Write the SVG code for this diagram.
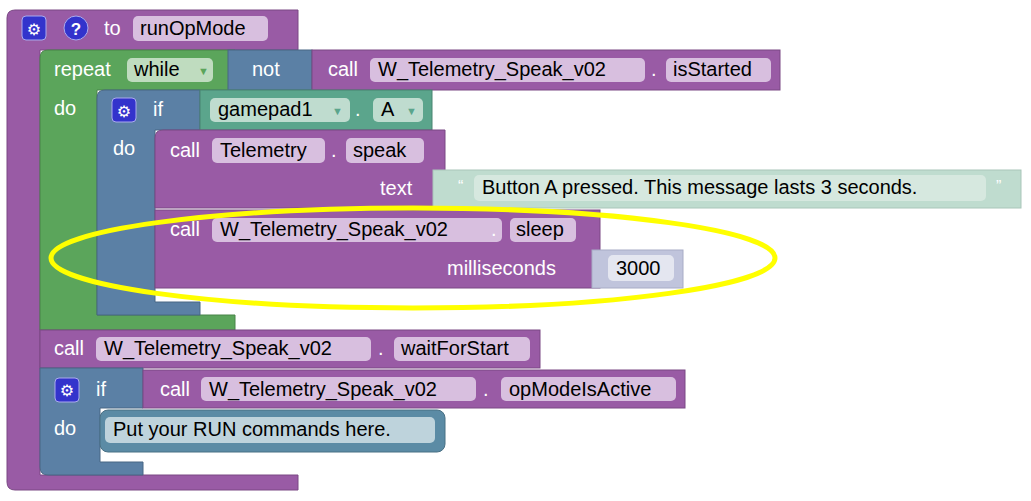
<svg xmlns="http://www.w3.org/2000/svg" width="1031" height="501" viewBox="0 0 1031 501">
<style>
.p{fill:#995ba5;stroke:#7a4984;stroke-width:1}
.g{fill:#5ba55b;stroke:#498449;stroke-width:1}
.b{fill:#5b80a5;stroke:#496684;stroke-width:1}
.t{fill:#5ba58c;stroke:#498470;stroke-width:1}
.w{fill:#fff;font-family:"Liberation Sans",Arial,sans-serif;font-size:20px}
.k{fill:#000;font-family:"Liberation Sans",Arial,sans-serif;font-size:20px}
.fp{fill:#d8bfdf}
.fg{fill:#bfdcbf}
.ft{fill:#bfdccf}
.ic{fill:#3333cc;stroke:#aaaaee;stroke-width:1}
</style>
<rect width="1031" height="501" fill="#fff"/>
<g id="func">
<path class="p" d="M15,10H298V50H40V475H298V490H15Q7,490 7,482V18Q7,10 15,10Z"/>
<rect class="ic" x="22" y="16" width="24" height="24" rx="4"/>
<text x="34" y="35" text-anchor="middle" fill="#fff" font-family="DejaVu Sans,sans-serif" font-size="16">⚙</text>
<circle class="ic" cx="76" cy="28" r="12"/>
<text x="76" y="35" text-anchor="middle" fill="#fff" font-family="Liberation Sans,sans-serif" font-size="17" font-weight="bold">?</text>
<text class="w" x="104" y="35">to</text>
<rect class="fp" x="133" y="16" width="135" height="25" rx="5"/>
<text class="k" x="140" y="35">runOpMode</text>
</g>
<g id="repeat">
<path class="g" d="M48,50H235V90H97V315H235V330H40V58Q40,50 48,50Z"/>
<text class="w" x="54" y="76">repeat</text>
<rect class="fg" x="127" y="58" width="86" height="24" rx="5"/>
<text class="k" x="134" y="76">while</text>
<text x="198" y="75" fill="#5ba55b" font-family="Liberation Sans,sans-serif" font-size="11">▼</text>
<text class="w" x="54" y="115">do</text>
</g>
<g id="not">
<rect class="b" x="228" y="50" width="84" height="40"/>
<text class="w" x="252" y="76">not</text>
</g>
<g id="isStarted">
<rect class="p" x="312" y="50" width="468" height="40"/>
<text class="w" x="328" y="76">call</text>
<rect class="fp" x="370" y="58" width="275" height="24" rx="5"/>
<text class="k" x="378" y="76">W_Telemetry_Speak_v02</text>
<text class="w" x="651" y="76">.</text>
<rect class="fp" x="666" y="58" width="105" height="24" rx="5"/>
<text class="k" x="673" y="76">isStarted</text>
</g>
<g id="if1">
<path class="b" d="M105,90H200V130H155V302H200V315H97V98Q97,90 105,90Z"/>
<rect class="ic" x="112" y="98" width="24" height="24" rx="4"/>
<text x="124" y="117" text-anchor="middle" fill="#fff" font-family="DejaVu Sans,sans-serif" font-size="16">⚙</text>
<text class="w" x="153" y="116">if</text>
<text class="w" x="113" y="155">do</text>
</g>
<g id="gamepad">
<rect class="t" x="200" y="90" width="232" height="40"/>
<rect class="fg" x="210" y="98" width="140" height="24" rx="5" style="fill:#bfdccf"/>
<text class="k" x="218" y="116">gamepad1</text>
<text x="332" y="115" fill="#5ba58c" font-family="Liberation Sans,sans-serif" font-size="11">▼</text>
<text class="w" x="355" y="116">.</text>
<rect class="ft" x="373" y="98" width="50" height="24" rx="5"/>
<text class="k" x="381" y="116">A</text>
<text x="406" y="115" fill="#5ba58c" font-family="Liberation Sans,sans-serif" font-size="11">▼</text>
</g>
<g id="speak">
<path class="p" d="M163,130H445V208H155V138Q155,130 163,130Z"/>
<text class="w" x="170" y="157">call</text>
<rect class="fp" x="212" y="138" width="113" height="25" rx="5"/>
<text class="k" x="220" y="157">Telemetry</text>
<text class="w" x="331" y="157">.</text>
<rect class="fp" x="346" y="138" width="78" height="25" rx="5"/>
<text class="k" x="353" y="157">speak</text>
<text class="w" x="380" y="195">text</text>
</g>
<g id="string">
<rect x="433" y="170" width="588" height="38" fill="#bfdccf" stroke="#a9c6b9"/>
<text x="458" y="192" fill="#fff" font-family="Liberation Sans,sans-serif" font-size="16">“</text>
<rect x="474" y="175" width="512" height="26" rx="5" fill="#d6e8df"/>
<text class="k" x="482" y="194">Button A pressed. This message lasts 3 seconds.</text>
<text x="996" y="192" fill="#fff" font-family="Liberation Sans,sans-serif" font-size="16">”</text>
</g>
<g id="sleep">
<rect class="p" x="155" y="210" width="445" height="78"/>
<text class="w" x="170" y="236">call</text>
<rect class="fp" x="212" y="218" width="290" height="24" rx="5"/>
<text class="k" x="220" y="236">W_Telemetry_Speak_v02</text>
<text class="w" x="491" y="236">.</text>
<rect class="fp" x="510" y="218" width="66" height="24" rx="5"/>
<text class="k" x="516" y="236">sleep</text>
<text class="w" x="447" y="275">milliseconds</text>
</g>
<g id="num">
<rect x="592" y="250" width="91" height="38" fill="#c0c4dc" stroke="#a8acc6"/>
<rect x="608" y="255" width="66" height="26" rx="5" fill="#e4e6f0"/>
<text class="k" x="616" y="275">3000</text>
</g>
<g id="waitForStart">
<rect class="p" x="40" y="330" width="500" height="38"/>
<text class="w" x="54" y="355">call</text>
<rect class="fp" x="96" y="337" width="275" height="24" rx="5"/>
<text class="k" x="104" y="355">W_Telemetry_Speak_v02</text>
<text class="w" x="378" y="355">.</text>
<rect class="fp" x="394" y="337" width="136" height="24" rx="5"/>
<text class="k" x="401" y="355">waitForStart</text>
</g>
<g id="if2">
<path class="b" d="M40,368H143V408H100V462H143V475H48Q40,475 40,467Z"/>
<rect class="ic" x="55" y="378" width="24" height="24" rx="4"/>
<text x="67" y="396" text-anchor="middle" fill="#fff" font-family="DejaVu Sans,sans-serif" font-size="16">⚙</text>
<text class="w" x="96" y="396">if</text>
<text class="w" x="54" y="435">do</text>
</g>
<g id="opModeIsActive">
<rect class="p" x="143" y="370" width="542" height="38"/>
<text class="w" x="160" y="396">call</text>
<rect class="fp" x="201" y="377" width="275" height="24" rx="5"/>
<text class="k" x="209" y="396">W_Telemetry_Speak_v02</text>
<text class="w" x="483" y="396">.</text>
<rect class="fp" x="501" y="377" width="175" height="24" rx="5"/>
<text class="k" x="509" y="396">opModeIsActive</text>
</g>
<g id="comment">
<rect x="100" y="410" width="345" height="42" rx="8" fill="#5b8ba5" stroke="#497084"/>
<rect x="105" y="417" width="330" height="26" rx="5" fill="#bed3dc"/>
<text class="k" x="113" y="436">Put your RUN commands here.</text>
</g>
<g id="connectors">
<ellipse cx="413" cy="258" rx="362" ry="50" fill="none" stroke="#ffff00" stroke-width="5"/>
</g>
</svg>
